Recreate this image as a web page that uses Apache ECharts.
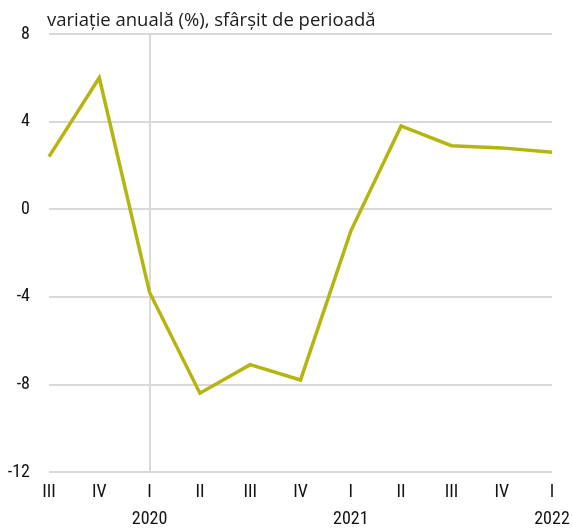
<!DOCTYPE html>
<html>
<head>
<meta charset="utf-8">
<script src="https://cdn.jsdelivr.net/npm/echarts@6/dist/echarts.min.js"></script>
<style>
  html, body { margin: 0; padding: 0; background: #ffffff; }
  #chart { width: 573px; height: 528px; }
</style>
</head>
<body>
<div id="chart"></div>
<script>
// Quarter labels along the x axis and the year shown under each first quarter
const quarters = ['III', 'IV', 'I', 'II', 'III', 'IV', 'I', 'II', 'III', 'IV', 'I'];
const years = ['', '', '2020', '', '', '', '2021', '', '', '', '2022'];
// Annual change (%), end of period
const values = [2.4, 6.0, -3.8, -8.4, -7.1, -7.8, -1.0, 3.8, 2.9, 2.8, 2.6];
const yTicks = [-12, -8, -4, 0, 4, 8];
const titleText = 'variație anuală (%), sfârșit de perioadă';

const narrow = '"Liberation Sans Narrow", "Roboto Condensed", "DejaVu Sans Condensed", sans-serif';

const chart = echarts.init(document.getElementById('chart'), null, { renderer: 'canvas' });
chart.setOption({
  animation: false,
  backgroundColor: '#ffffff',
  title: {
    text: titleText,
    left: 42,
    top: 6,
    textStyle: {
      fontFamily: '"Open Sans", "Noto Sans", sans-serif',
      fontWeight: 'normal',
      fontSize: 18.5,
      color: '#1a1a1a'
    }
  },
  grid: { left: 49, right: 21, top: 34, bottom: 56, containLabel: false, outerBoundsMode: 'none' },
  xAxis: {
    type: 'category',
    data: quarters.map((q, i) => ({ value: q + '\n' + years[i] })),
    boundaryGap: false,
    axisLine: { show: false },
    axisTick: { show: false },
    axisLabel: {
      interval: 0,
      margin: 7,
      fontFamily: narrow,
      fontSize: 18,
      lineHeight: 27,
      color: '#111111'
    },
    splitLine: {
      show: true,
      interval: (idx) => idx === 2,
      lineStyle: { color: '#d9d9d9', width: 2 }
    }
  },
  yAxis: {
    type: 'value',
    min: yTicks[0],
    max: yTicks[yTicks.length - 1],
    interval: 4,
    axisLine: { show: false },
    axisTick: { show: false },
    axisLabel: {
      margin: 19,
      fontFamily: narrow,
      fontSize: 18,
      color: '#111111'
    },
    splitLine: { lineStyle: { color: '#d9d9d9', width: 2 } }
  },
  series: [{
    type: 'line',
    data: values,
    symbol: 'none',
    lineStyle: { color: '#b5b50f', width: 3.5, join: 'miter' },
    z: 5
  }]
});
</script>
</body>
</html>
